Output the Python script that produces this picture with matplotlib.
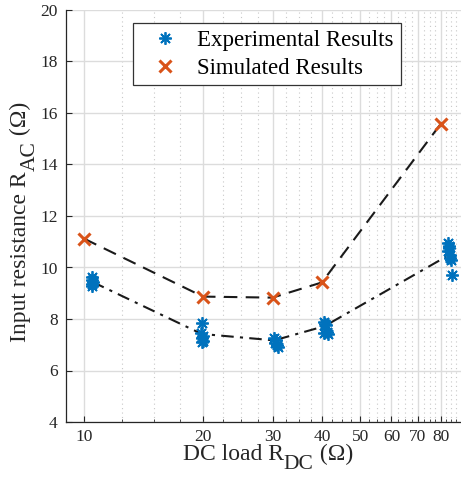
import numpy as np
import matplotlib.pyplot as plt
from matplotlib.ticker import FixedLocator, NullFormatter
from matplotlib.transforms import IdentityTransform

plt.rcParams['font.family'] = ['Liberation Serif', 'DejaVu Serif']

# simulated results
sim_x = [10, 20, 30, 40, 80]
sim_y = [11.12, 8.87, 8.83, 9.42, 15.58]

# experimental measurements (several per load)
exp_x = [10.45, 10.5, 10.55, 10.45, 10.5,
         19.9, 19.8, 20.0, 19.9, 20.05, 19.85,
         30.3, 30.6, 30.4, 30.8, 31.0,
         40.4, 40.8, 41.0, 40.6, 41.5, 41.2,
         83.5, 83.8, 84.0, 83.6, 84.2, 84.5, 84.8, 85.6]
exp_y = [9.62, 9.52, 9.42, 9.35, 9.3,
         7.86, 7.45, 7.35, 7.25, 7.15, 7.1,
         7.25, 7.18, 7.08, 6.98, 6.9,
         7.88, 7.82, 7.75, 7.45, 7.4, 7.5,
         10.95, 10.85, 10.75, 10.65, 10.5, 10.38, 10.28, 9.72]

# averaged experimental trend
avg_x = [10.5, 19.85, 30.3, 40.6, 82.5]
avg_y = [9.44, 7.42, 7.17, 7.72, 10.42]

xticks = [10, 20, 30, 40, 50, 60, 70, 80]
xminor = [v for v in np.arange(12.5, 90, 2.5) if v not in xticks]
yticks = list(range(4, 21, 2))

fig = plt.figure(figsize=(4.61, 4.84), dpi=100)
ax = fig.add_axes([66/461, 62/484, 395/461, 412/484])

blue = '#0072BD'
red = '#D95319'
dark = '#262626'

ax.plot(sim_x, sim_y, ls=(0, (6.5, 4)), color='#1a1a1a', lw=1.5, zorder=3)
ax.plot(avg_x, avg_y, ls=(0, (6, 3, 1.5, 3)), color='#1a1a1a', lw=1.5, zorder=3)
ax.plot(exp_x, exp_y, ls='none', marker=(8, 2, 0), ms=9, mew=1.3,
        color=blue, label='Experimental Results', zorder=4)
ax.plot(sim_x, sim_y, ls='none', marker='x', ms=9, mew=2.2,
        color=red, label='Simulated Results', zorder=5)

ax.set_xscale('log')
ax.set_xlim(9, 90)
ax.set_ylim(4, 20)
ax.xaxis.set_major_locator(FixedLocator(xticks))
ax.xaxis.set_minor_locator(FixedLocator(xminor))
ax.xaxis.set_minor_formatter(NullFormatter())
ax.set_xticklabels([str(v) for v in xticks])
ax.set_yticks(yticks)

ax.grid(which='major', color='#dcdcdc', lw=1.0, ls='-', zorder=0)
ax.grid(which='minor', axis='x', color='#c8c8c8', lw=0.8, ls=(0, (1, 3)), zorder=0)
ax.set_axisbelow(True)

ax.tick_params(which='both', direction='in', colors=dark, labelsize=12.5)
ax.tick_params(which='major', length=4)
ax.tick_params(which='minor', length=2.5)
ax.tick_params(axis='x', pad=5)
ax.tick_params(axis='y', pad=6)
for s in ['top', 'right']:
    ax.spines[s].set_visible(False)
for s in ['left', 'bottom']:
    ax.spines[s].set_color(dark)
    ax.spines[s].set_linewidth(0.9)

leg = ax.legend(loc='upper left', bbox_to_anchor=(0.1696, 0.968), borderaxespad=0,
                fontsize=16.5, frameon=True, fancybox=False, edgecolor='#333333',
                handletextpad=0.3, borderpad=0.3, labelspacing=0.28, handlelength=2.2)
leg.get_frame().set_linewidth(0.9)
leg.get_frame().set_alpha(1)

# axis labels with full-size lowered subscripts (MATLAB look)
renderer = fig.canvas.get_renderer()
lab_fs = 17
sub_fs = 15.5
drop = 9


def piece_width(s, fs):
    t = fig.text(0, 0, s, fontsize=fs)
    w = t.get_window_extent(renderer).width
    t.remove()
    return w


def compose(parts, cx, base, vertical):
    widths = [piece_width(s, fs) for s, fs, _ in parts]
    pos = cx - sum(widths) / 2
    for (s, fs, sub), w in zip(parts, widths):
        off = -drop if sub else 0
        if vertical:
            fig.text(base - off, pos, s, fontsize=fs, color=dark, rotation=90,
                     rotation_mode='anchor', ha='left', va='baseline',
                     transform=IdentityTransform())
        else:
            fig.text(pos, base + off, s, fontsize=fs, color=dark,
                     ha='left', va='baseline', transform=IdentityTransform())
        pos += w


compose([('DC load R', lab_fs, False), ('DC', sub_fs, True), (' (\u03a9)', lab_fs, False)],
        268, 484 - 460, False)
compose([('Input resistance R', lab_fs, False), ('AC', sub_fs, True), (' (\u03a9)', lab_fs, False)],
        484 - 222, 26, True)

fig.savefig('out.png', dpi=100)
